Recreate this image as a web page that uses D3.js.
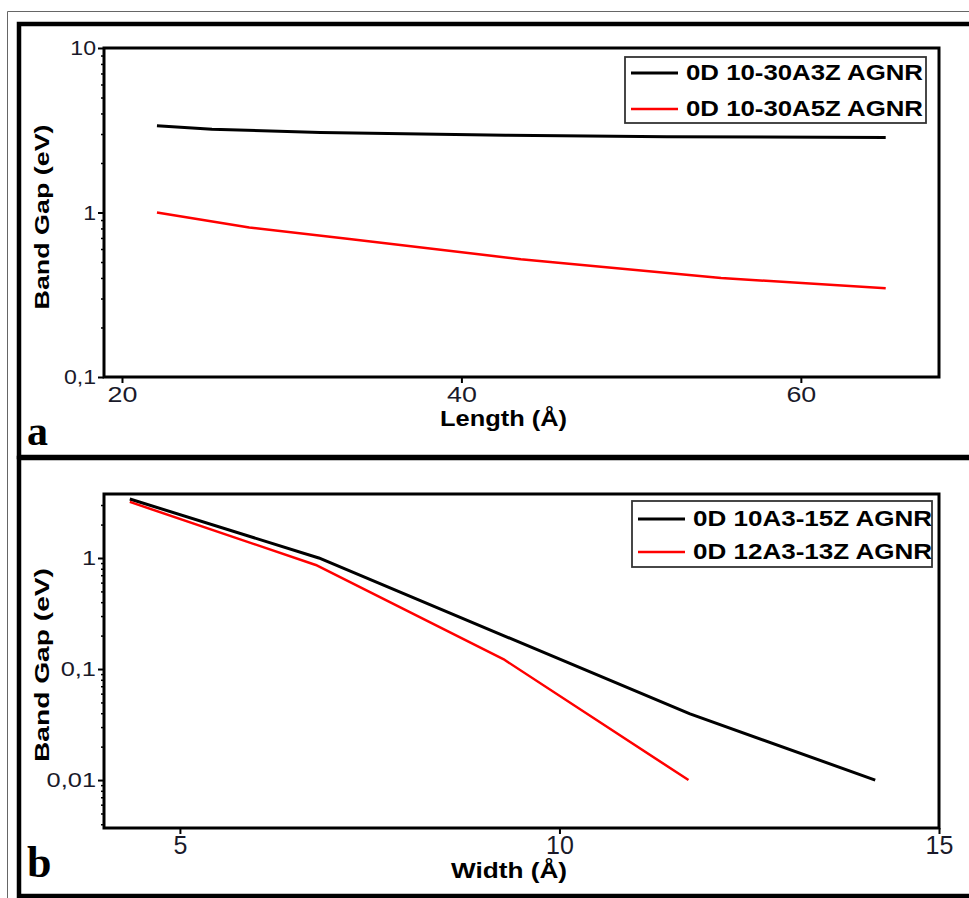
<!DOCTYPE html>
<html>
<head>
<meta charset="utf-8">
<script src="https://cdn.jsdelivr.net/npm/d3@7/dist/d3.min.js"></script>
<style>
  html, body { margin: 0; padding: 0; background: #fff; }
  svg { display: block; }
  .sans { font-family: "Liberation Sans", Arial, Helvetica, sans-serif; }
  .serif { font-family: "Liberation Serif", "Times New Roman", serif; }
</style>
</head>
<body>
<script>
// ---- Panel a: band gap vs ribbon length ----
const lengthA3Z = [22.06, 25.3, 31.7, 42.6, 52.1, 65.0];
const gapA3Z    = [3.37, 3.21, 3.06, 2.95, 2.89, 2.86];
const lengthA5Z = [22.06, 27.5, 33.4, 43.5, 55.3, 65.0];
const gapA5Z    = [1.0, 0.81, 0.69, 0.52, 0.40, 0.346];
const legendA   = ["0D 10-30A3Z AGNR", "0D 10-30A5Z AGNR"];
const lengthTicks = [20, 40, 60];
const gapTicksA   = [0.1, 1, 10];

// ---- Panel b: band gap vs ribbon width ----
const width10A3 = [4.34, 6.83, 11.72, 14.16];
const gap10A3   = [3.4, 1.0, 0.0394, 0.01];
const width12A3 = [4.34, 6.79, 9.26, 11.70];
const gap12A3   = [3.2, 0.865, 0.123, 0.01];
const legendB   = ["0D 10A3-15Z AGNR", "0D 12A3-13Z AGNR"];
const widthTicks = [5, 10, 15];
const gapTicksB  = [0.01, 0.1, 1];

const seriesColors = ["#000000", "#ff0000"];
const commaFmt = v => String(v).replace(".", ",");

const svg = d3.select("body").append("svg")
  .attr("width", 969).attr("height", 898);

// widen glyphs of a text selection by a factor
function stretch(sel, k) {
  sel.each(function () {
    const w = this.getComputedTextLength();
    d3.select(this).attr("textLength", w * k).attr("lengthAdjust", "spacingAndGlyphs");
  });
}

// outer thin border
svg.append("path")
  .attr("d", "M7.5,898 L7.5,11.5 L969,11.5")
  .attr("fill", "none").attr("stroke", "#666").attr("stroke-width", 1);

// heavy panel frames
svg.append("rect").attr("x", 19).attr("y", 24).attr("width", 980).attr("height", 433)
  .attr("fill", "none").attr("stroke", "#000").attr("stroke-width", 4.5);
svg.append("rect").attr("x", 19).attr("y", 458).attr("width", 980).attr("height", 438)
  .attr("fill", "none").attr("stroke", "#000").attr("stroke-width", 4.5);

function drawPanel(cfg) {
  const g = svg.append("g");
  const x = d3.scaleLinear().domain(cfg.xDomain).range([cfg.left, cfg.right]);
  const y = d3.scaleLog().domain(cfg.yDomain).range([cfg.bottom, cfg.top]);

  // minor y ticks
  const minor = y.ticks().filter(v => !cfg.yTicks.some(t => Math.abs(t - v) < 1e-9));
  const gMinor = g.append("g").attr("transform", `translate(${cfg.left},0)`)
    .call(d3.axisLeft(y).tickValues(minor).tickSize(3).tickFormat(""));
  gMinor.select(".domain").remove();
  gMinor.selectAll("line").attr("stroke", "#000").attr("stroke-width", 1.5);

  // major y ticks
  const gy = g.append("g").attr("transform", `translate(${cfg.left},0)`)
    .call(d3.axisLeft(y).tickValues(cfg.yTicks).tickSize(6).tickPadding(2).tickFormat(commaFmt));
  gy.select(".domain").remove();
  gy.attr("font-family", null).attr("font-size", null);
  gy.selectAll("line").attr("stroke", "#000").attr("stroke-width", 2);
  gy.selectAll("text").attr("class", "sans").style("font-size", cfg.yFont + "px")
    .attr("fill", "#1a1a2a").call(stretch, cfg.yStretch);

  // x ticks
  const gx = g.append("g").attr("transform", `translate(0,${cfg.bottom})`)
    .call(d3.axisBottom(x).tickValues(cfg.xTicks).tickSize(cfg.xTickSize).tickPadding(cfg.xPad));
  gx.select(".domain").remove();
  gx.attr("font-family", null).attr("font-size", null);
  gx.selectAll("line").attr("stroke", "#000").attr("stroke-width", 2);
  gx.selectAll("text").attr("class", "sans").style("font-size", cfg.xFont + "px")
    .attr("fill", "#1a1a2a").call(stretch, cfg.xStretch);

  // data lines
  const line = d3.line().x(d => x(d[0])).y(d => y(d[1]));
  cfg.series.forEach((s, i) => {
    g.append("path")
      .datum(s.xs.map((v, j) => [v, s.ys[j]]))
      .attr("d", line)
      .attr("fill", "none")
      .attr("stroke", seriesColors[i])
      .attr("stroke-width", i === 0 ? 3 : 2.5)
      .attr("stroke-linejoin", "round");
  });

  // plot frame
  g.append("rect")
    .attr("x", cfg.left).attr("y", cfg.top)
    .attr("width", cfg.right - cfg.left).attr("height", cfg.bottom - cfg.top)
    .attr("fill", "none").attr("stroke", "#000").attr("stroke-width", 3);

  // axis titles
  g.append("text")
    .attr("class", "sans")
    .attr("x", cfg.xTitle.cx).attr("y", cfg.xTitle.base)
    .attr("text-anchor", "middle")
    .style("font-weight", "bold").style("font-size", cfg.xTitle.size + "px")
    .attr("textLength", cfg.xTitle.len).attr("lengthAdjust", "spacingAndGlyphs")
    .text(cfg.xTitle.text);
  g.append("text")
    .attr("class", "sans")
    .attr("transform", `translate(${cfg.yTitle.base},${cfg.yTitle.cy}) rotate(-90)`)
    .attr("text-anchor", "middle")
    .style("font-weight", "bold").style("font-size", cfg.yTitle.size + "px")
    .attr("textLength", cfg.yTitle.len).attr("lengthAdjust", "spacingAndGlyphs")
    .text("Band Gap (eV)");

  // legend
  const L = cfg.legend;
  const lg = g.append("g");
  lg.append("rect").attr("x", L.x).attr("y", L.y).attr("width", L.w).attr("height", L.h)
    .attr("fill", "#fff").attr("stroke", "#333").attr("stroke-width", 1.8);
  L.labels.forEach((lab, i) => {
    lg.append("line")
      .attr("x1", L.x + 6).attr("x2", L.x + 53)
      .attr("y1", L.rows[i]).attr("y2", L.rows[i])
      .attr("stroke", seriesColors[i]).attr("stroke-width", i === 0 ? 3 : 2.5);
    lg.append("text")
      .attr("class", "sans")
      .attr("x", L.x + 61).attr("y", L.rows[i] + 7)
      .style("font-weight", "bold").style("font-size", "22px")
      .attr("textLength", L.textLen).attr("lengthAdjust", "spacingAndGlyphs")
      .text(lab);
  });

  // panel letter
  g.append("text")
    .attr("class", "serif")
    .attr("x", 27).attr("y", cfg.tag.base)
    .style("font-weight", "bold").style("font-size", cfg.tag.size + "px")
    .text(cfg.tag.text);
}

drawPanel({
  left: 104, right: 939, top: 48, bottom: 377,
  xDomain: [18.94, 68.14], yDomain: [0.1, 10],
  xTicks: lengthTicks, yTicks: gapTicksA,
  yFont: 21, yStretch: 1.1,
  xFont: 22, xStretch: 1.22, xTickSize: 6, xPad: 3,
  series: [
    { xs: lengthA3Z, ys: gapA3Z },
    { xs: lengthA5Z, ys: gapA5Z }
  ],
  xTitle: { text: "Length (Å)", cx: 503.5, base: 426, size: 22, len: 127 },
  yTitle: { base: 49, cy: 217, size: 21, len: 185 },
  legend: { x: 625, y: 57, w: 301, h: 66, rows: [73, 109], textLen: 237, labels: legendA },
  tag: { text: "a", base: 445, size: 42 }
});

drawPanel({
  left: 104, right: 939, top: 494, bottom: 828,
  xDomain: [4, 15], yDomain: [0.0037, 3.77],
  xTicks: widthTicks, yTicks: gapTicksB,
  yFont: 20, yStretch: 1.27,
  xFont: 25, xStretch: 1.0, xTickSize: 6, xPad: 2,
  series: [
    { xs: width10A3, ys: gap10A3 },
    { xs: width12A3, ys: gap12A3 }
  ],
  xTitle: { text: "Width (Å)", cx: 509, base: 878, size: 22, len: 116 },
  yTitle: { base: 49, cy: 665, size: 21, len: 194 },
  legend: { x: 632, y: 501, w: 300, h: 66, rows: [519, 552], textLen: 239, labels: legendB },
  tag: { text: "b", base: 877, size: 44 }
});
</script>
</body>
</html>
